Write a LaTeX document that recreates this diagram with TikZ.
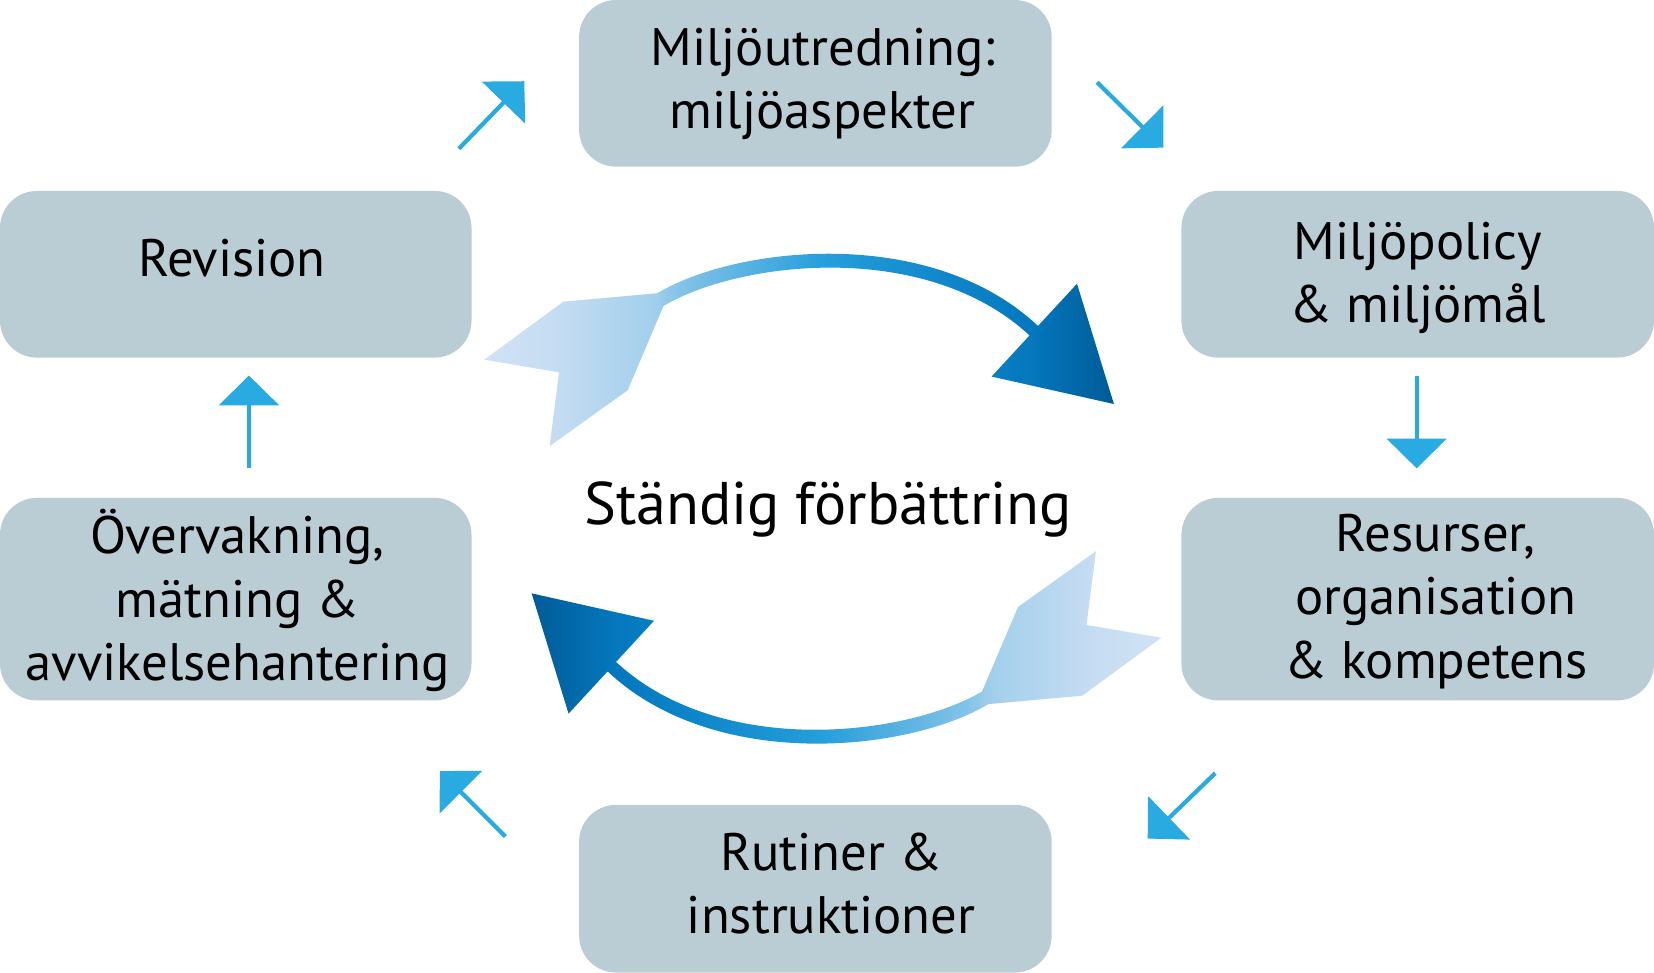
\documentclass[tikz,border=0pt]{standalone}
\usepackage{fontspec}
\setmainfont{PT Sans}
\usetikzlibrary{arrows.meta}
\definecolor{boxc}{HTML}{BBCDD4}
\definecolor{cyanA}{HTML}{29ABE2}
\definecolor{g1}{HTML}{D2E2F5}
\definecolor{g2}{HTML}{C4DCF2}
\definecolor{g3}{HTML}{A2CFEC}
\definecolor{g4}{HTML}{82C3E8}
\definecolor{g5}{HTML}{259EDA}
\definecolor{g6}{HTML}{0E86CA}
\definecolor{g7}{HTML}{0477BD}
\definecolor{g8}{HTML}{005B96}
\pgfdeclarehorizontalshading{arrgrad}{100bp}{color(0bp)=(g1); color(25bp)=(g1); color(31bp)=(g2); color(38.5bp)=(g3); color(40.5bp)=(g4); color(52bp)=(g5); color(62bp)=(g6); color(68.5bp)=(g7); color(75bp)=(g8); color(100bp)=(g8)}
\tikzset{
  box/.style={fill=boxc, rounded corners=35pt, inner sep=0pt},
  txt/.style={font=\fontsize{50}{60}\selectfont, align=center, inner sep=0pt, text=black},
  bigtxt/.style={font=\fontsize{57}{68}\selectfont, inner sep=0pt, text=black},
  small/.style={draw=cyanA, line width=4pt, line cap=butt, -{Triangle[angle=90:40pt, fill=cyanA]}}
}
\begin{document}
\begin{tikzpicture}[x=1pt, y=-1pt]
\useasboundingbox (0,0) rectangle (1568,922.4);
% boxes
\node[box, minimum width=448pt, minimum height=158pt] (mil) at (773,79) {};
\node[box, minimum width=447pt, minimum height=158pt] (rev) at (223.5,260) {};
\node[box, minimum width=448pt, minimum height=158pt] (pol) at (1344,260) {};
\node[box, minimum width=447pt, minimum height=192pt] (ove) at (223.5,568) {};
\node[box, minimum width=448pt, minimum height=192pt] (res) at (1344,568) {};
\node[box, minimum width=448pt, minimum height=159pt] (rut) at (773,842.5) {};
% texts (base anchor = baseline of last line)
\node[txt, anchor=base] (milt) at (780,122) {Miljöutredning:\\miljöaspekter};
\node[txt, anchor=base] (revt) at (220,262) {Revision};
\node[txt, anchor=base] (polt) at (1344,306) {Miljöpolicy\\\& miljömål};
\node[txt, anchor=base] (ovet) at (225,645) {Övervakning,\\mätning \&\\avvikelsehantering};
\node[txt, anchor=base] (rest) at (1361,643) {Resurser,\\organisation\\\& kompetens};
\node[txt, anchor=base] (rutt) at (788,885) {Rutiner \&\\instruktioner};
\node[bigtxt, anchor=base] (mid) at (785,497) {Ständig förbättring};
% small arrows
\coordinate (a1s) at (435,141); \coordinate (a1e) at (497,77);
\coordinate (a2s) at (1040,78); \coordinate (a2e) at (1103,140);
\coordinate (a3s) at (1343,356); \coordinate (a3e) at (1343,444);
\coordinate (a4s) at (1152,733); \coordinate (a4e) at (1088,795);
\coordinate (a5s) at (479,793); \coordinate (a5e) at (417,731);
\coordinate (a6s) at (236,444); \coordinate (a6e) at (236,356);
\draw[small] (a1s) -- (a1e);
\draw[small] (a2s) -- (a2e);
\draw[small] (a3s) -- (a3e);
\draw[small] (a4s) -- (a4e);
\draw[small] (a5s) -- (a5e);
\draw[small] (a6s) -- (a6e);
% big arrows
\path[shading=arrgrad] (459,341) -- (534,286) -- (623,278)
  .. controls (698,233) and (882,213) .. (984,309) -- (1021,269) -- (1056,383) -- (940,357) -- (976,318)
  .. controls (878,227) and (702,247) .. (629,290) -- (595,370) -- (521,423) -- (530,353) -- cycle;
\begin{scope}[rotate around={180:(780,472.75)}]
\path[shading=arrgrad, shading angle=180] (459,341) -- (534,286) -- (623,278)
  .. controls (698,233) and (882,213) .. (984,309) -- (1021,269) -- (1056,383) -- (940,357) -- (976,318)
  .. controls (878,227) and (702,247) .. (629,290) -- (595,370) -- (521,423) -- (530,353) -- cycle;
\end{scope}
\end{tikzpicture}
\end{document}
